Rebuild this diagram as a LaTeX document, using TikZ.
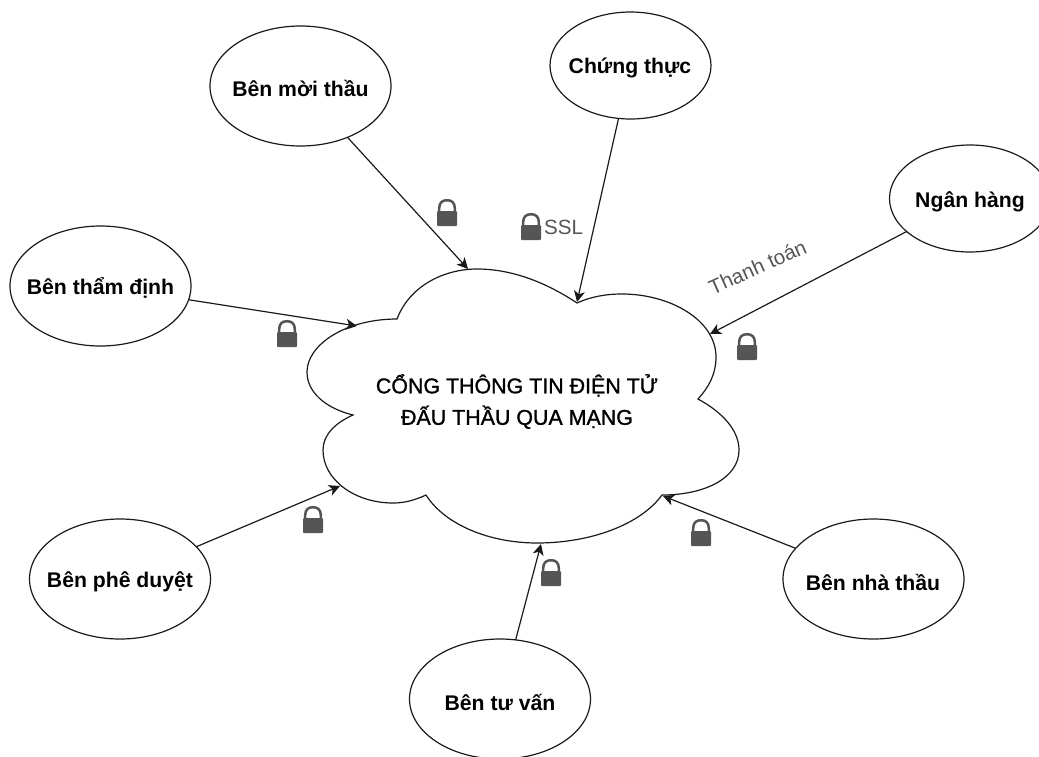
\documentclass[tikz,border=0pt]{standalone}
\usepackage{fontspec}
\setmainfont{Liberation Sans}
\newfontface\heavyface{Liberation Sans}[FakeBold=1.2]
\usetikzlibrary{shapes.geometric,arrows.meta}
\definecolor{lockgray}{HTML}{555555}
\definecolor{inkline}{HTML}{1A1A1A}
\tikzset{
  party/.style={ellipse,draw=inkline,line width=1.2pt,fill=white,minimum width=181pt,minimum height=120pt,inner sep=0pt,outer sep=0pt,text=black},
  partytext/.style={font=\fontsize{21.2}{25}\selectfont\bfseries,text=black,inner sep=0pt},
  link/.style={draw=inkline,line width=1.2pt,-{Stealth[length=11pt,width=11pt,inset=3pt]}},
  cloudline/.style={draw=inkline,line width=1.2pt,fill=white,line join=miter},
  graytext/.style={font=\fontsize{20.6}{25}\selectfont,text=lockgray,inner sep=0pt},
  padlock/.pic={
    \fill[lockgray,rounded corners=1pt] (-10,12) rectangle (10,27);
    \draw[lockgray,line width=2.5pt] (-7.8,13) -- (-7.8,9) .. controls (-7.8,3.5) and (-4.5,1.2) .. (0,1.2) .. controls (4.5,1.2) and (7.8,3.5) .. (7.8,9) -- (7.8,13);
  }
}
\begin{document}
\begin{tikzpicture}[x=1pt,y=-1pt]
\useasboundingbox (0,0) rectangle (1039,756);
% cloud
\draw[cloudline] (397,319) .. controls (410,285) and (445,269) .. (477,269)
  .. controls (515,269) and (550,285) .. (577,303)
  .. controls (590,297) and (605,294) .. (622,294)
  .. controls (670,294) and (716,320) .. (716,357)
  .. controls (716,375) and (708,388) .. (698,399)
  .. controls (722,412) and (739,430) .. (739,450)
  .. controls (739,478) and (705,495) .. (662,495)
  .. controls (640,525) and (590,543) .. (537,543)
  .. controls (490,543) and (445,525) .. (426,495)
  .. controls (415,500) and (405,503) .. (393,503)
  .. controls (355,503) and (323,480) .. (323,450)
  .. controls (323,435) and (335,423) .. (353,415)
  .. controls (325,408) and (307,392) .. (307,372)
  .. controls (307,345) and (345,319) .. (397,319) -- cycle;
\node[font=\fontsize{21.4}{31.5}\heavyface,align=center,inner sep=0pt,text=black] (portal) at (517,401.5) {CỔNG THÔNG TIN ĐIỆN TỬ\\ĐẤU THẦU QUA MẠNG};
% parties
\node[party] (moi) at (300.5,86) {};
\node[party] (tham) at (100.5,286) {};
\node[party,minimum width=161pt,minimum height=107pt] (chung) at (630.5,65.5) {};
\node[party,minimum width=161pt,minimum height=107pt] (ngan) at (970,198.5) {};
\node[party] (phe) at (120,579) {};
\node[party] (tuvan) at (500,699) {};
\node[party] (nha) at (873.5,579) {};
\node[partytext] (tmoi) at (300.5,88) {Bên mời thầu};
\node[partytext] (ttham) at (100.5,288) {Bên thẩm định};
\node[partytext] (tchung) at (630,68) {Chứng thực};
\node[partytext] (tngan) at (970,202) {Ngân hàng};
\node[partytext] (tphe) at (120,582) {Bên phê duyệt};
\node[partytext] (ttuvan) at (500,702) {Bên tư vấn};
\node[partytext] (tnha) at (873,582) {Bên nhà thầu};
% connector ends on the cloud
\coordinate (cmoi) at (468,269);
\coordinate (ctham) at (357,326);
\coordinate (cchung) at (577,302);
\coordinate (cngan) at (710,334);
\coordinate (cphe) at (340,486);
\coordinate (ctuvan) at (541,544);
\coordinate (cnha) at (663,496);
\draw[link] (moi) -- (cmoi);
\draw[link] (tham) -- (ctham);
\draw[link] (chung) -- (cchung);
\draw[link] (ngan) -- (cngan);
\draw[link] (phe) -- (cphe);
\draw[link] (tuvan) -- (ctuvan);
\draw[link] (nha) -- (cnha);
% locks
\pic at (447,199) {padlock};
\pic at (531,213) {padlock};
\pic at (287,320) {padlock};
\pic at (747,333) {padlock};
\pic at (313,506) {padlock};
\pic at (701,519) {padlock};
\pic at (551,559) {padlock};
% labels
\node[graytext,anchor=base west] (ssl) at (544,234) {SSL};
\node[graytext,rotate=24] (pay) at (757.5,267) {Thanh toán};
\end{tikzpicture}
\end{document}
